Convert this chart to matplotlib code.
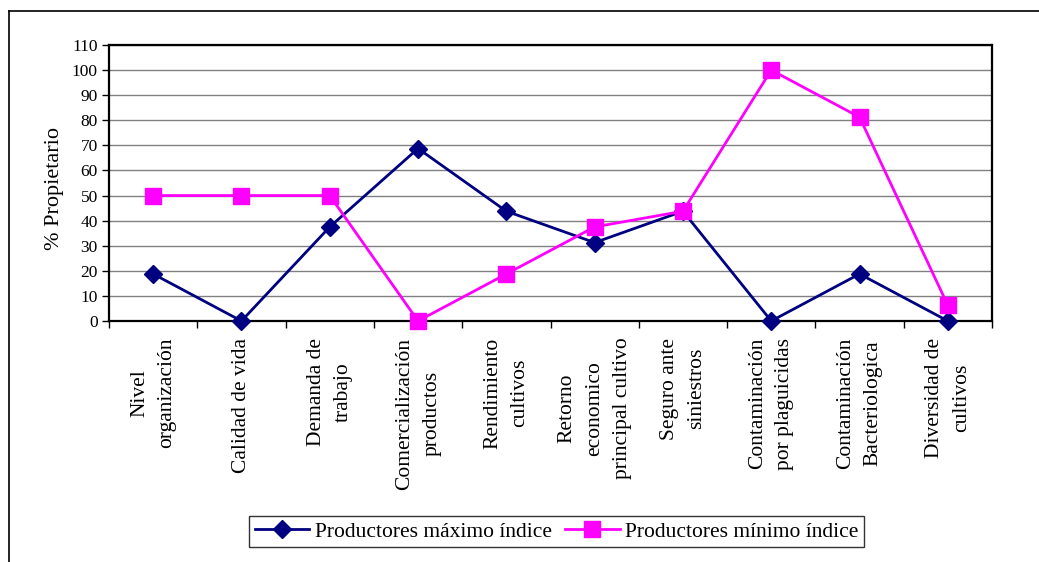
import matplotlib

matplotlib.use("Agg")
import matplotlib.pyplot as plt
from matplotlib.lines import Line2D

# ── Data ──
categories = [
    "Nivel\norganización",
    "Calidad de vida",
    "Demanda de\ntrabajo",
    "Comercialización\nproductos",
    "Rendimiento\ncultivos",
    "Retorno\neconomico\nprincipal cultivo",
    "Seguro ante\nsiniestros",
    "Contaminación\npor plaguicidas",
    "Contaminación\nBacteriologica",
    "Diversidad de\ncultivos",
]
max_index = [18.75, 0, 37.5, 68.75, 43.75, 31.25, 43.75, 0, 18.75, 0]
min_index = [50, 50, 50, 0, 18.75, 37.5, 43.75, 100, 81.25, 6.25]
series_labels = ["Productores máximo índice", "Productores mínimo índice"]
y_ticks = list(range(0, 111, 10))

NAVY = "#000080"
MAGENTA = "#FF00FF"

plt.rcParams["font.family"] = ["Liberation Serif", "DejaVu Serif"]

fig = plt.figure(figsize=(10.39, 5.62), dpi=100)
ax = fig.add_axes([109 / 1039, 1 - 321 / 562, (992 - 109) / 1039, (321 - 45) / 562])

x = list(range(len(categories)))
ax.plot(x, max_index, color=NAVY, lw=2.0, marker="D", ms=9.5,
        label=series_labels[0], zorder=3, clip_on=False)
ax.plot(x, min_index, color=MAGENTA, lw=2.0, marker="s", ms=11,
        label=series_labels[1], zorder=3, clip_on=False)

ax.set_xlim(-0.5, len(categories) - 0.5)
ax.set_ylim(0, 110)
ax.set_yticks(y_ticks)
ax.tick_params(axis="y", labelsize=12.5, direction="out", length=5, width=1, pad=3)
ax.yaxis.grid(True, color="#808080", lw=1.0)
ax.set_axisbelow(True)

# boundaries as major ticks, names on minor ticks
ax.set_xticks([i - 0.5 for i in range(len(categories) + 1)])
ax.set_xticklabels([])
ax.set_xticks(x, minor=True)
ax.set_xticklabels(categories, minor=True, rotation=90, fontsize=15.5,
                   ha="center", va="top", multialignment="center", linespacing=1.6)
ax.tick_params(axis="x", which="major", direction="out", length=5, width=1)
ax.tick_params(axis="x", which="minor", length=0, pad=12)

for sp in ax.spines.values():
    sp.set_linewidth(1.6)

ax.set_ylabel("% Propietario", fontsize=16)
ax.yaxis.set_label_coords((64 - 109) / 883, 0.48)

leg = fig.legend(loc="center", bbox_to_anchor=(556.5 / 1039, 1 - 531.5 / 562),
                 ncol=2, fontsize=15.5, frameon=True, fancybox=False,
                 handlelength=2.55, handletextpad=0.25, columnspacing=0.6,
                 borderpad=0.25, borderaxespad=0)
leg.get_frame().set_edgecolor("black")
leg.get_frame().set_linewidth(1.0)

# outer frame (left and top edges only)
fig.add_artist(Line2D([9 / 1039, 9 / 1039], [0, 1 - 11 / 562], color="black", lw=1.2))
fig.add_artist(Line2D([9 / 1039, 1], [1 - 11 / 562, 1 - 11 / 562], color="black", lw=1.2))

fig.savefig("out.png", dpi=100)
